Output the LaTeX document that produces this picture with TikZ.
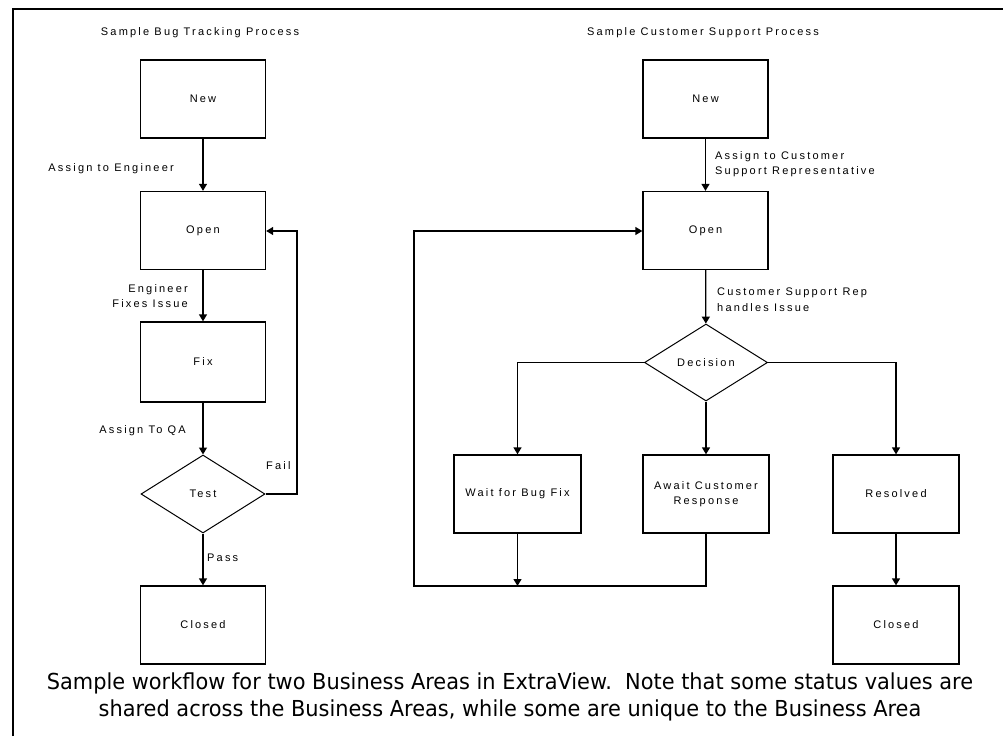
\documentclass[tikz,border=0pt]{standalone}
\usepackage{fontspec}
\setmainfont{Liberation Sans}[LetterSpace=20]
\newfontfamily\capfont{DejaVu Sans}[FakeStretch=0.95]
\usetikzlibrary{shapes.geometric,arrows.meta}
\tikzset{
  box/.style={draw, line width=1.3pt, minimum width=125pt, minimum height=78pt, inner sep=1pt, align=center, font=\fontsize{11}{15}\selectfont},
  dia/.style={draw, diamond, line width=1pt, minimum width=124pt, minimum height=78pt, inner sep=0pt, font=\fontsize{11}{12}\selectfont},
  lbl/.style={font=\fontsize{11}{15.5}\selectfont, inner sep=0pt},
  ttl/.style={font=\fontsize{11}{12}\selectfont, inner sep=0pt},
  arr/.style={line width=1.3pt, -{Triangle[width=8pt,length=7pt]}},
}
\begin{document}
\begin{tikzpicture}[x=1pt,y=-1pt]
\useasboundingbox (0,0) rectangle (1003,736);
% frame
\draw[line width=2.5pt] (13,736) -- (13,9) -- (1003,9);
% titles
\node[ttl] (t1) at (200,33) {Sample Bug Tracking Process};
\node[ttl] (t2) at (703,33) {Sample Customer Support Process};
% left column
\node[box] (n1) at (203,99) {New};
\node[box] (o1) at (203,230.5) {Open};
\node[box, minimum height=80pt] (f1) at (203,362) {Fix};
\node[dia] (d1) at (203,494) {Test};
\node[box] (c1) at (203,625) {Closed};
\draw[arr] (n1) -- (o1);
\draw[arr] (o1) -- (f1);
\draw[arr] (f1) -- (d1);
\draw[arr] (d1) -- (c1);
\coordinate (fl) at (297,494);
\coordinate (fu) at (297,231);
\draw[arr] (d1.east) -- (fl) -- (fu) -- (o1.east |- fu);
\node[lbl, anchor=east] (la1) at (174,169) {Assign to Engineer};
\node[lbl, anchor=east, align=right] (la2) at (188,296) {Engineer\\Fixes Issue};
\node[lbl, anchor=east] (la3) at (186,431) {Assign To QA};
\node[lbl, anchor=west] (la4) at (266,466) {Fail};
\node[lbl, anchor=west] (la5) at (207,558) {Pass};
% right column
\node[box] (n2) at (705.5,99) {New};
\node[box] (o2) at (705.5,230.5) {Open};
\node[dia, minimum width=123pt, minimum height=77pt] (d2) at (706,362.5) {Decision};
\node[box, minimum width=127pt] (w2) at (517.5,494) {Wait for Bug Fix};
\node[box, minimum width=126pt] (a2) at (706,494) {Await Customer\\Response};
\node[box, minimum width=126pt] (r2) at (896,494) {Resolved};
\node[box, minimum width=126pt] (c2) at (896,625) {Closed};
\draw[arr] (n2) -- (o2);
\draw[arr] (o2) -- (d2);
\draw[arr] (d2.west) -| (w2.north);
\draw[arr] (d2) -- (a2);
\draw[arr] (d2.east) -| (r2.north);
\draw[arr] (r2) -- (c2);
\coordinate (bl) at (414,586);
\coordinate (tl) at (414,231);
\coordinate (wb) at (517.5,586);
\draw[arr] (w2.south) -- (wb);
\draw[arr] (a2.south) |- (bl) -- (tl) -- (o2.west |- tl);
\node[lbl, anchor=west, align=left] (lb1) at (715,164) {Assign to Customer\\Support Representative};
\node[lbl, anchor=west, align=left] (lb2) at (717,299.5) {Customer Support Rep\\handles Issue};
% caption
\node[font=\capfont\fontsize{22}{27}\selectfont, align=center, inner sep=0pt] (cap) at (510,696.5) {Sample workflow for two Business Areas in ExtraView.\ \ Note that some status values are\\shared across the Business Areas, while some are unique to the Business Area};
\end{tikzpicture}
\end{document}
